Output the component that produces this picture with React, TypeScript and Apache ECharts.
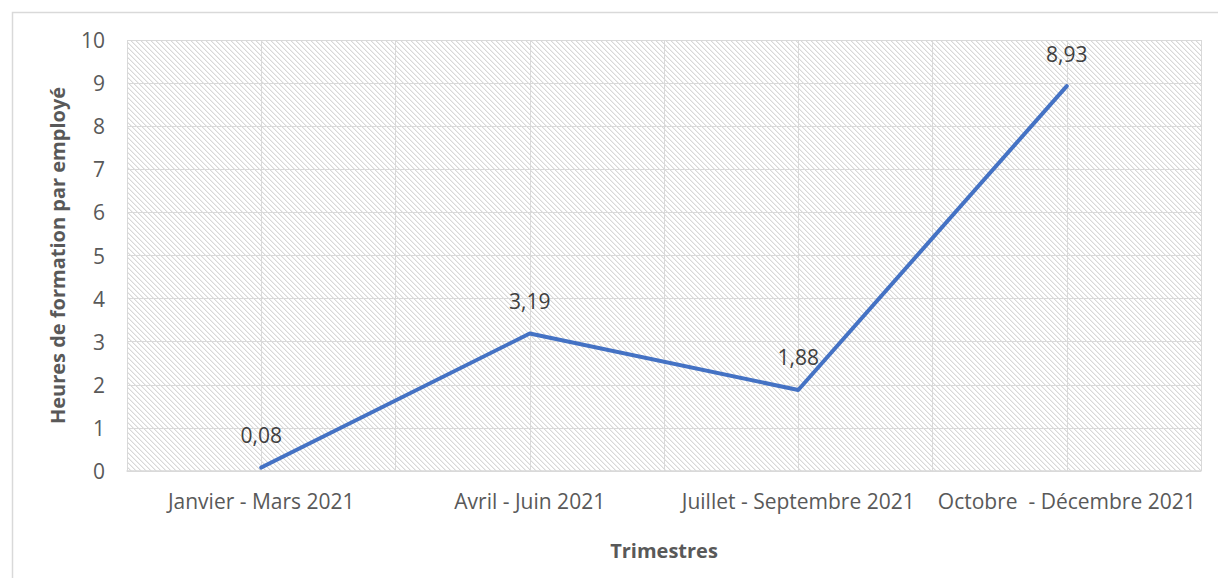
import React, { useEffect, useRef } from "react";
import * as echarts from "echarts";

const categories = [
  "Janvier - Mars 2021",
  "Avril - Juin 2021",
  "Juillet - Septembre 2021",
  "Octobre  - Décembre 2021",
];
const values = [0.08, 3.19, 1.88, 8.93];
const yTicks = { min: 0, max: 10, interval: 1 };
const yTitle = "Heures de formation par employé";
const xTitle = "Trimestres";

const FONT = "Open Sans";

export default function App() {
  const ref = useRef<HTMLDivElement>(null);
  useEffect(() => {
    if (!ref.current) return;
    const chart = echarts.init(ref.current, null, { renderer: "svg" });

    const size = 5;
    const c = document.createElement("canvas");
    c.width = size;
    c.height = size;
    const ctx = c.getContext("2d")!;
    ctx.fillStyle = "#ffffff";
    ctx.fillRect(0, 0, size, size);
    for (let i = 0; i < size; i++) {
      ctx.fillStyle = "#d8d8d8";
      ctx.fillRect(i, i, 1, 1);
      ctx.fillStyle = "#eeeeee";
      ctx.fillRect((i + 1) % size, i, 1, 1);
    }

    chart.setOption({
      animation: false,
      backgroundColor: "#ffffff",
      textStyle: { fontFamily: FONT },
      graphic: [
        {
          type: "rect",
          left: 10,
          top: 10,
          shape: { x: 0, y: 0, width: 1300, height: 700 },
          style: { fill: "none", stroke: "#d9d9d9", lineWidth: 1.5 },
          z: -10,
          silent: true,
        },
      ],
      grid: {
        left: 127,
        right: 17,
        top: 40,
        bottom: 107,
        show: true,
        borderWidth: 0,
        backgroundColor: {
          image: c,
          repeat: "repeat",
          imageWidth: size,
          imageHeight: size,
        },
      },
      xAxis: {
        type: "value",
        min: -0.5,
        max: 3.5,
        interval: 0.5,
        name: xTitle,
        nameLocation: "middle",
        nameGap: 69,
        nameTextStyle: {
          fontFamily: FONT,
          fontWeight: "bold",
          fontSize: 20,
          color: "#595959",
        },
        axisLine: { show: true, lineStyle: { color: "#d9d9d9", width: 1.5 } },
        axisTick: { show: false },
        splitLine: { show: true, lineStyle: { color: "#d9d9d9", width: 1 } },
        axisLabel: {
          margin: 19,
          fontFamily: FONT,
          fontSize: 21,
          color: "#595959",
          showMinLabel: true,
          showMaxLabel: true,
          formatter: (v: number) =>
            Number.isInteger(v) && v >= 0 && v < categories.length
              ? categories[v]
              : "",
        },
      },
      yAxis: {
        type: "value",
        min: yTicks.min,
        max: yTicks.max,
        interval: yTicks.interval,
        name: yTitle,
        nameLocation: "middle",
        nameGap: 60,
        nameRotate: 90,
        nameTextStyle: {
          fontFamily: FONT,
          fontWeight: "bold",
          fontSize: 20,
          color: "#595959",
        },
        axisLine: { show: false },
        axisTick: { show: false },
        splitLine: { show: true, lineStyle: { color: "#d9d9d9", width: 1 } },
        axisLabel: {
          margin: 22,
          fontFamily: FONT,
          fontSize: 21,
          color: "#595959",
        },
      },
      series: [
        {
          type: "line",
          data: values.map((v, i) => [i, v]),
          symbol: "circle",
          symbolSize: 0.1,
          showSymbol: true,
          lineStyle: { color: "#4472c4", width: 4, cap: "round", join: "round" },
          itemStyle: { color: "#4472c4" },
          label: {
            show: true,
            position: "top",
            distance: 22,
            fontFamily: FONT,
            fontSize: 21,
            color: "#404040",
            formatter: (p: any) => p.value[1].toFixed(2).replace(".", ","),
          },
        },
      ],
    });
    return () => chart.dispose();
  }, []);
  return (
    <div
      ref={ref}
      style={{ position: "absolute", left: 0, top: 0, width: 1218, height: 578 }}
    />
  );
}
